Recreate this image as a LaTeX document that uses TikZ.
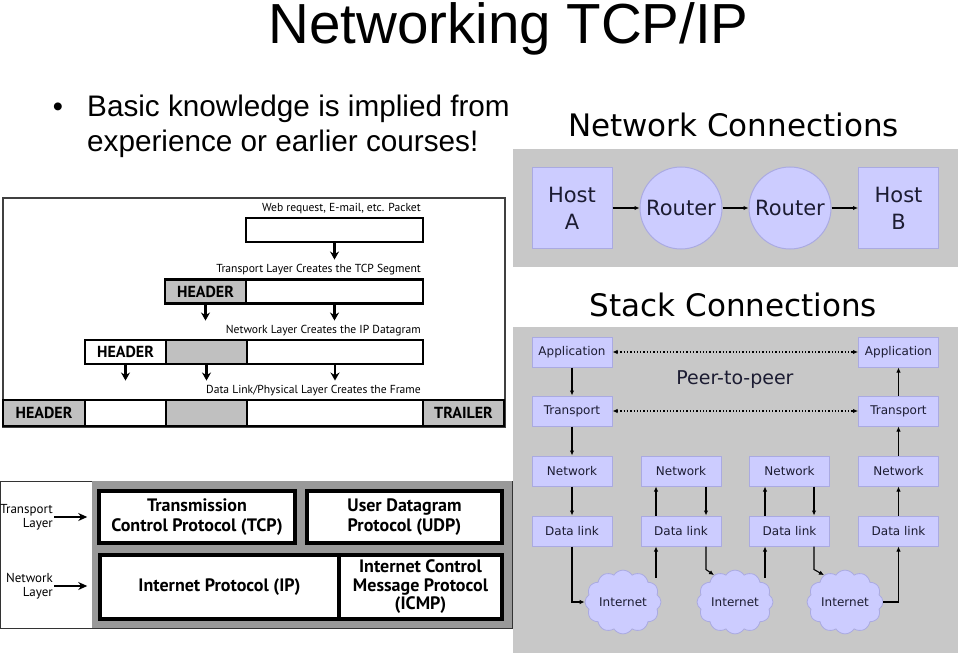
\documentclass[tikz,border=0pt]{standalone}
\usepackage{fontspec}
\setmainfont{Liberation Sans}
\newfontfamily\dvs{DejaVu Sans}
\newfontfamily\pts{PT Sans}
\usetikzlibrary{arrows.meta,shapes.symbols,positioning}

\definecolor{lav}{RGB}{204,204,255}
\definecolor{lavline}{RGB}{170,170,225}
\definecolor{panel}{RGB}{200,200,200}
\definecolor{hdrgray}{RGB}{192,192,192}
\definecolor{midgray}{RGB}{153,153,153}
\definecolor{ink}{RGB}{28,28,50}

\begin{document}
\begin{tikzpicture}[x=1pt,y=-1pt,
    seg/.style={draw=black, line width=2.5pt, inner sep=0pt, minimum height=24pt,
      font=\pts\bfseries\fontsize{16}{16}\selectfont},
    lbl/.style={inner sep=1pt, font=\pts\fontsize{11.6}{12}\selectfont},
    dn/.style={-{Stealth[length=8pt,width=9pt]}, line width=2.2pt, shorten >=3pt},
    proto/.style={draw=black, fill=white, line width=3.5pt, align=center, inner sep=0pt,
      font=\pts\bfseries\fontsize{18}{20}\selectfont},
    lyr/.style={align=right, inner sep=1pt, font=\pts\fontsize{13}{14}\selectfont},
    lar/.style={-{Stealth[length=9pt,width=8pt]}, line width=2pt},
    host/.style={draw=lavline, fill=lav, line width=1pt, minimum size=80pt, align=center,
      text=ink, font=\dvs\fontsize{21}{27}\selectfont},
    rtr/.style={circle, draw=lavline, fill=lav, line width=1pt, minimum size=82pt, inner sep=0pt,
      text=ink, font=\dvs\fontsize{21}{21}\selectfont},
    ttl/.style={inner sep=0pt, font=\dvs\fontsize{31}{31}\selectfont},
    stk/.style={draw=lavline, fill=lav, line width=1pt, minimum width=80pt, minimum height=30pt,
      inner sep=0pt, text=ink, font=\dvs\fontsize{12}{12}\selectfont},
    net/.style={cloud, cloud puffs=12, cloud puff arc=115, aspect=1.2, draw=lavline, fill=lav,
      line width=0.8pt, minimum width=76pt, minimum height=60pt, inner sep=0pt,
      text=ink, font=\dvs\fontsize{12}{12}\selectfont},
    conn/.style={-{Latex[length=5pt,width=4.5pt]}, line width=1.1pt},
    peer/.style={{Latex[length=5pt,width=4.5pt]}-{Latex[length=5pt,width=4.5pt]}, line width=1.3pt,
      dotted}]
    \useasboundingbox (0,0) rectangle (960,655);

    % heading and bullet
    \node[anchor=base, inner sep=0pt, text height=40pt, font=\fontsize{56.5}{57}\selectfont] (title) at (508.5,44) {Networking TCP/IP};
    \node[anchor=base, inner sep=0pt, font=\fontsize{29}{29}\selectfont] (dot) at (58,117) {•};
    \node[anchor=base west, inner sep=0pt, font=\fontsize{29.7}{30}\selectfont] (bul1) at (87,117) {Basic knowledge is implied from};
    \node[anchor=base west, inner sep=0pt, font=\fontsize{29.7}{30}\selectfont] (bul2) at (87,152) {experience or earlier courses!};

    % encapsulation
    \draw[draw=black!75, line width=1.2pt] (3,198) rectangle (505,427);

    \node[lbl, anchor=base east] (t0) at (422,211) {Web request, E-mail, etc. Packet};
    \node[seg, minimum width=177pt] (p0) at (334.5,230) {};

    \node[lbl, anchor=base east] (t1) at (422,272) {Transport Layer Creates the TCP Segment};
    \node[seg, fill=hdrgray, minimum width=81pt] (hdA) at (205.5,291.5) {HEADER};
    \node[seg, minimum width=177pt] (sgA) at (334.5,291.5) {};

    \node[lbl, anchor=base east] (t2) at (422,333) {Network Layer Creates the IP Datagram};
    \node[seg, minimum width=81pt] (hdB) at (125.5,352) {HEADER};
    \node[seg, fill=hdrgray, minimum width=81pt] (ghB) at (206.5,352) {};
    \node[seg, minimum width=176pt] (sgB) at (335,352) {};

    \node[lbl, anchor=base east] (t3) at (422,393) {Data Link/Physical Layer Creates the Frame};
    \node[seg, fill=hdrgray, minimum width=82pt, minimum height=26pt] (hdC) at (44,413) {HEADER};
    \node[seg, minimum width=81pt, minimum height=26pt] (wC) at (125.5,413) {};
    \node[seg, fill=hdrgray, minimum width=81pt, minimum height=26pt] (gC) at (206.5,413) {};
    \node[seg, minimum width=176pt, minimum height=26pt] (sgC) at (335,413) {};
    \node[seg, fill=hdrgray, minimum width=81pt, minimum height=26pt] (trC) at (463.5,413) {TRAILER};

    \draw[dn] (p0.south) -- (p0.south |- t1.north);
    \draw[dn] (hdA.south) -- (hdA.south |- t2.north);
    \draw[dn] (sgA.south) -- (sgA.south |- t2.north);
    \draw[dn] (hdB.south) -- (hdB.south |- t3.north);
    \draw[dn] (ghB.south) -- (ghB.south |- t3.north);
    \draw[dn] (sgB.south) -- (sgB.south |- t3.north);

    % protocol layers
    \draw[draw=black!80, line width=1pt] (0,481) rectangle (512,628);
    \fill[midgray] (92,481) rectangle (512,628);
    \node[proto, minimum width=196pt, minimum height=52pt] (tcp) at (197,517) {Transmission\\Control Protocol (TCP)};
    \node[proto, minimum width=195pt, minimum height=52pt] (udp) at (404.5,517) {User Datagram\\Protocol (UDP)};
    \node[proto, minimum width=239pt, minimum height=64pt] (ip) at (219.5,587) {Internet Protocol (IP)};
    \node[proto, minimum width=163pt, minimum height=64pt, font=\pts\bfseries\fontsize{18}{18.5}\selectfont] (icmp) at (420.5,587) {Internet Control\\Message Protocol\\(ICMP)};

    \node[lyr, anchor=east] (lt) at (54,517) {Transport\\Layer};
    \node[lyr, anchor=east] (ln) at (54,586) {Network\\Layer};
    \draw[lar, shorten >=10pt] (lt.east) -- (lt.east -| tcp.west);
    \draw[lar, shorten >=11pt] (ln.east) -- (ln.east -| ip.west);

    % network connections
    \node[ttl, anchor=base] (nc) at (733.5,137) {Network Connections};
    \fill[panel] (513,149) rectangle (958,267);
    \node[host] (ha) at (572,208) {Host\\A};
    \node[rtr] (r1) at (681,208) {Router};
    \node[rtr] (r2) at (790,208) {Router};
    \node[host] (hb) at (898.5,208) {Host\\B};
    \draw[conn] (ha) -- (r1);
    \draw[conn] (r1) -- (r2);
    \draw[conn] (r2) -- (hb);

    % stack connections
    \node[ttl, anchor=base] (sc) at (733.5,316) {Stack Connections};
    \fill[panel] (513,327) rectangle (958,653);
    \node[stk] (ap1) at (572,352) {Application};
    \node[stk] (ap2) at (898.5,352) {Application};
    \node[stk] (tr1) at (572,411) {Transport};
    \node[stk] (tr2) at (898.5,411) {Transport};
    \node[text=ink, inner sep=0pt, font=\dvs\fontsize{19}{19}\selectfont] (p2p) at (735,380) {Peer-to-peer};
    \foreach \i/\x in {1/572,2/681,3/789.5,4/898.5} {
      \node[stk] (nw\i) at (\x,471) {Network};
      \node[stk] (dl\i) at (\x,531) {Data link};
    }
    \node[net] (cl1) at (623,602) {Internet};
    \node[net] (cl2) at (735,602) {Internet};
    \node[net] (cl3) at (845,602) {Internet};

    \draw[peer] (ap1) -- (ap2);
    \draw[peer] (tr1) -- (tr2);

    \draw[conn] (ap1) -- (tr1);
    \draw[conn] (tr1) -- (nw1);
    \draw[conn] (nw1) -- (dl1);
    \draw[conn] (dl1.south) |- (cl1.west);

    \coordinate (u2) at (656,578);
    \coordinate (u3) at (765,578);
    \draw[conn] (u2) -- (u2 |- dl2.south);
    \draw[conn] (u2 |- dl2.north) -- (u2 |- nw2.south);
    \draw[conn] ([xshift=25pt]nw2.south) -- ([xshift=25pt]dl2.north);
    \draw[conn] ([xshift=25pt]dl2.south) -- ++(0,23) -- (cl2.128);

    \draw[conn] (u3) -- (u3 |- dl3.south);
    \draw[conn] (u3 |- dl3.north) -- (u3 |- nw3.south);
    \draw[conn] ([xshift=24.5pt]nw3.south) -- ([xshift=24.5pt]dl3.north);
    \draw[conn] ([xshift=24.5pt]dl3.south) -- ++(0,23) -- (cl3.128);

    \draw[conn] (cl3.east) -| (dl4.south);
    \draw[conn] (dl4) -- (nw4);
    \draw[conn] (nw4) -- (tr2);
    \draw[conn] (tr2) -- (ap2);
\end{tikzpicture}
\end{document}
